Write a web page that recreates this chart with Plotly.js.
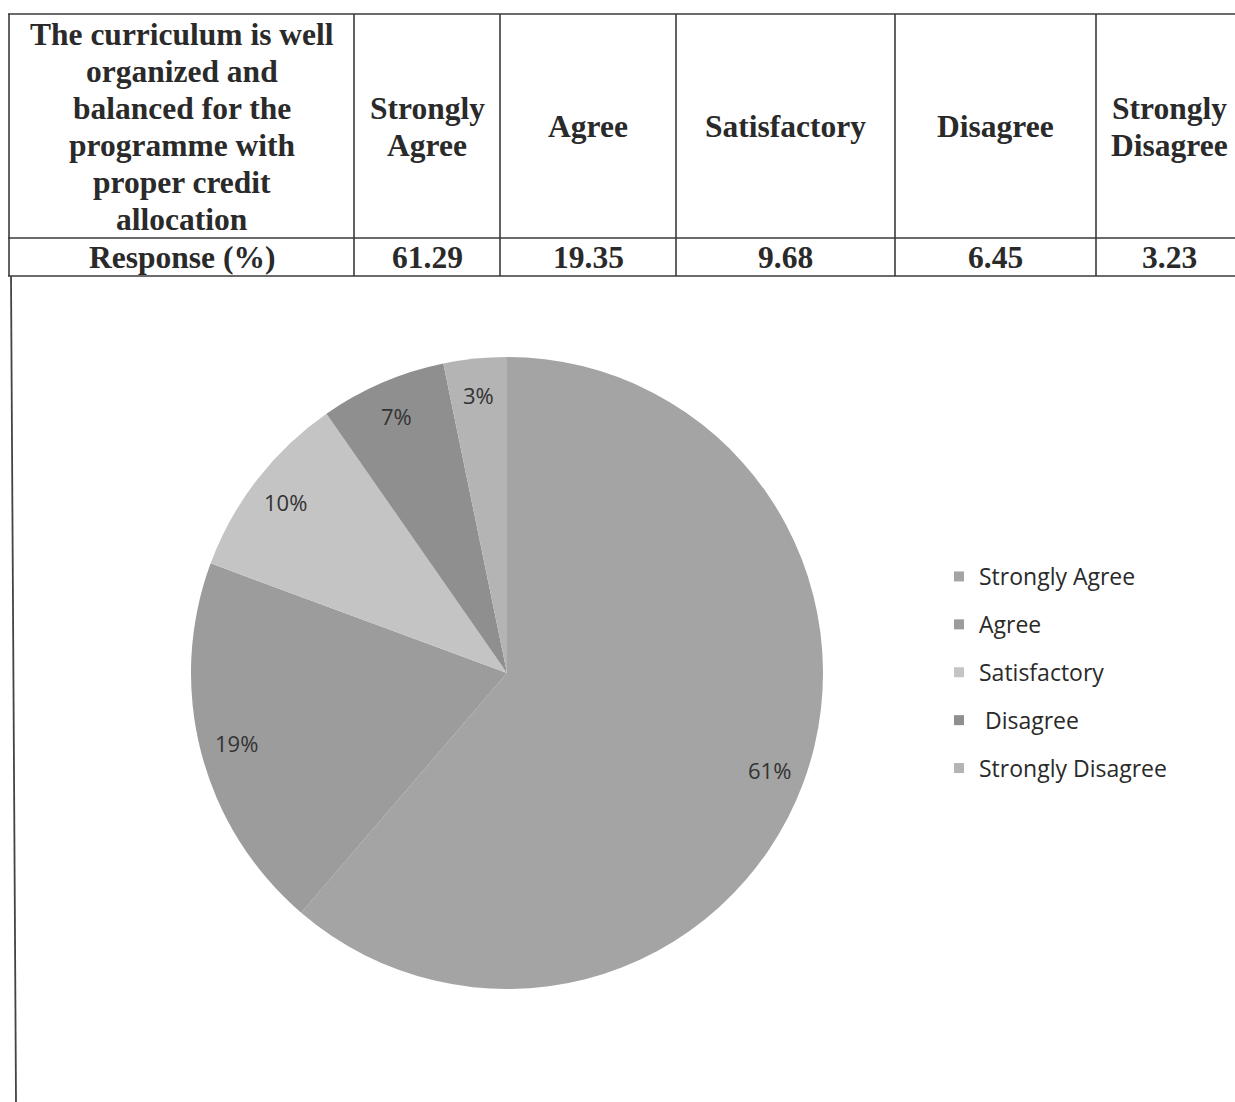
<!DOCTYPE html>
<html><head><meta charset="utf-8">
<script src="https://cdn.plot.ly/plotly-3.0.1.min.js"></script>
<style>html,body{margin:0;padding:0;background:#fff;overflow:hidden}#chart{width:1235px;height:1102px}</style>
</head><body><div id="chart"></div>
<script>
// ---- data ----
const questionLines = ['The curriculum is well', 'organized and', 'balanced for the', 'programme with', 'proper credit', 'allocation'];
const rowLabel = 'Response (%)';
const categories = ['Strongly Agree', 'Agree', 'Satisfactory', 'Disagree', 'Strongly Disagree'];
const responses = [61.29, 19.35, 9.68, 6.45, 3.23];
const pieLabels = ['61%', '19%', '10%', '7%', '3%'];
const legendNames = ['Strongly Agree', 'Agree', 'Satisfactory', ' Disagree', 'Strongly Disagree'];

// ---- styles / layout ----
const sliceColors = ['#a4a4a4', '#9c9c9c', '#c4c4c4', '#8f8f8f', '#b4b4b4'];
const W = 1235, H = 1102;
const px = x => x / W;
const py = y => 1 - y / H;
const colEdges = [9, 354, 500, 676, 895, 1096, 1242];
const rowEdges = [14, 238, 276];
const lineColor = '#3a3a3a';
const serif = 'Liberation Serif, Times New Roman, serif';
const lineStep = 37;

const shapes = [];
rowEdges.forEach(y => shapes.push({type: 'line', xref: 'paper', yref: 'paper',
  x0: px(8), x1: px(1240), y0: py(y), y1: py(y), line: {color: lineColor, width: 1.6}}));
colEdges.slice(0, -1).forEach(x => shapes.push({type: 'line', xref: 'paper', yref: 'paper',
  x0: px(x), x1: px(x), y0: py(rowEdges[0]), y1: py(rowEdges[2]), line: {color: lineColor, width: 1.6}}));
shapes.push({type: 'line', xref: 'paper', yref: 'paper', x0: px(11), x1: px(16), y0: py(276), y1: py(1102),
  line: {color: '#444', width: 1.8}});

const annotations = [];
const hdrY = 127, valY = (rowEdges[1] + rowEdges[2]) / 2;
const colCenter = i => (colEdges[i] + colEdges[i + 1]) / 2;
const tfont = {family: serif, size: 31.5, color: '#2a2a2a', weight: 'bold'};
function cellLines(lines, col) {
  lines.forEach((t, k) => annotations.push({xref: 'paper', yref: 'paper', x: px(colCenter(col)),
    y: py(hdrY + (k - (lines.length - 1) / 2) * lineStep), text: '<b>' + t + '</b>',
    showarrow: false, font: tfont, xanchor: 'center', yanchor: 'middle'}));
}
cellLines(questionLines, 0);
annotations.push({xref: 'paper', yref: 'paper', x: px(colCenter(0)), y: py(valY), text: '<b>' + rowLabel + '</b>',
  showarrow: false, font: tfont, xanchor: 'center', yanchor: 'middle'});
categories.forEach((c, i) => {
  cellLines(c.split(' '), i + 1);
  annotations.push({xref: 'paper', yref: 'paper', x: px(colCenter(i + 1)), y: py(valY),
    text: '<b>' + responses[i].toFixed(2) + '</b>', showarrow: false, font: tfont,
    xanchor: 'center', yanchor: 'middle'});
});

// pie geometry
const cx = 507, cy = 673, R = 316;
const total = responses.reduce((a, b) => a + b, 0);
let cum = 0;
responses.forEach((v, i) => {
  const mid = (cum + v / 2) / total * 2 * Math.PI;
  cum += v;
  const rr = 0.885 * R;
  annotations.push({xref: 'paper', yref: 'paper', x: px(cx + rr * Math.sin(mid)), y: py(cy - rr * Math.cos(mid)),
    text: pieLabels[i], showarrow: false, xanchor: 'center', yanchor: 'middle',
    font: {family: 'Open Sans, sans-serif', size: 22, color: '#333'}});
});

const pie = {
  type: 'pie', values: responses, labels: categories, textinfo: 'none',
  sort: false, direction: 'clockwise', rotation: 0,
  marker: {colors: sliceColors, line: {width: 0}},
  domain: {x: [px(cx - R), px(cx + R)], y: [py(cy + R), py(cy - R)]},
  showlegend: false, hoverinfo: 'label+percent'
};
const legendTraces = legendNames.map((n, i) => ({
  type: 'scatter', mode: 'markers', x: [null], y: [null], name: n, legendgroup: 'g' + i,
  marker: {symbol: 'square', size: 10, color: sliceColors[i]}, hoverinfo: 'skip', showlegend: true
}));

const layout = {
  width: W, height: H, margin: {l: 0, r: 0, t: 0, b: 0},
  paper_bgcolor: '#fff', plot_bgcolor: 'rgba(0,0,0,0)',
  xaxis: {visible: false, domain: [0.99, 1]}, yaxis: {visible: false, domain: [0.99, 1]},
  showlegend: true,
  legend: {x: px(939), xanchor: 'left', y: py(555), yanchor: 'top', tracegroupgap: 15,
    font: {family: 'Open Sans, sans-serif', size: 23, color: '#2a2a2a'}, bgcolor: 'rgba(0,0,0,0)'},
  shapes: shapes, annotations: annotations
};
Plotly.newPlot('chart', [pie].concat(legendTraces), layout, {displayModeBar: false, staticPlot: true});
</script></body></html>
